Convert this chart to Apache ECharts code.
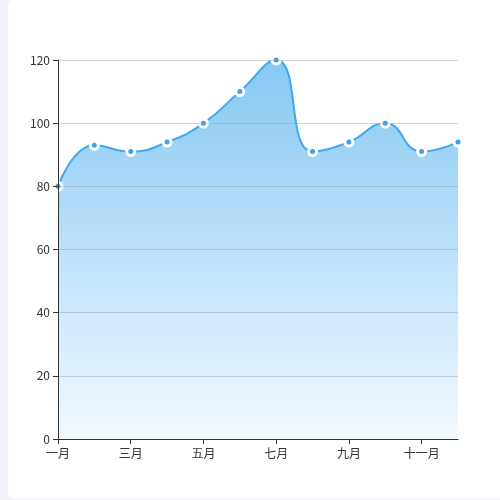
<!DOCTYPE html>
<html><head><meta charset="utf-8">
<script src="https://cdn.jsdelivr.net/npm/echarts@6/dist/echarts.min.js"></script>
<style>
html,body{margin:0;padding:0;width:500px;height:500px;background:#f2f3f8;overflow:hidden;}
#card{position:absolute;left:8px;top:0;width:510px;height:498px;background:#fff;border-radius:6px;}
#chart{position:absolute;left:0;top:0;width:500px;height:500px;}
</style></head>
<body>
<div id="card"></div>
<div id="chart"></div>
<script>
const categories = ['一月','二月','三月','四月','五月','六月','七月','八月','九月','十月','十一月','十二月'];
const values = [80, 93, 91, 94, 100, 110, 120, 91, 94, 100, 91, 94];
const yTicks = {min: 0, max: 120, interval: 20};

const chart = echarts.init(document.getElementById('chart'), null, {renderer: 'canvas'});
chart.setOption({
  animation: false,
  textStyle: {fontFamily: '"Noto Sans CJK SC", "Noto Sans", sans-serif'},
  grid: {left: 58, right: 42, top: 60, bottom: 61},
  xAxis: {
    type: 'category',
    data: categories,
    boundaryGap: false,
    z: 3,
    axisLine: {lineStyle: {color: '#333'}},
    axisTick: {show: true, lineStyle: {color: '#333'}},
    axisLabel: {interval: 1, color: '#333', fontSize: 12}
  },
  yAxis: {
    type: 'value',
    min: yTicks.min, max: yTicks.max, interval: yTicks.interval,
    z: 3,
    axisLine: {show: true, lineStyle: {color: '#333'}},
    axisTick: {show: true, lineStyle: {color: '#333'}},
    axisLabel: {color: '#333', fontSize: 12},
    splitLine: {lineStyle: {color: 'rgba(150,160,170,0.45)'}}
  },
  series: [{
    type: 'line',
    data: values,
    smooth: true,
    symbol: 'circle',
    symbolSize: 8,
    showAllSymbol: true,
    z: 2,
    itemStyle: {color: '#3aa2ea', borderColor: '#fff', borderWidth: 3},
    lineStyle: {color: '#3fa7ee', width: 2},
    areaStyle: {
      opacity: 0.7,
      color: new echarts.graphic.LinearGradient(0, 0, 0, 1, [
        {offset: 0, color: '#50b0ec'},
        {offset: 1, color: '#eef6ff'}
      ])
    }
  }]
});
</script>
</body></html>
